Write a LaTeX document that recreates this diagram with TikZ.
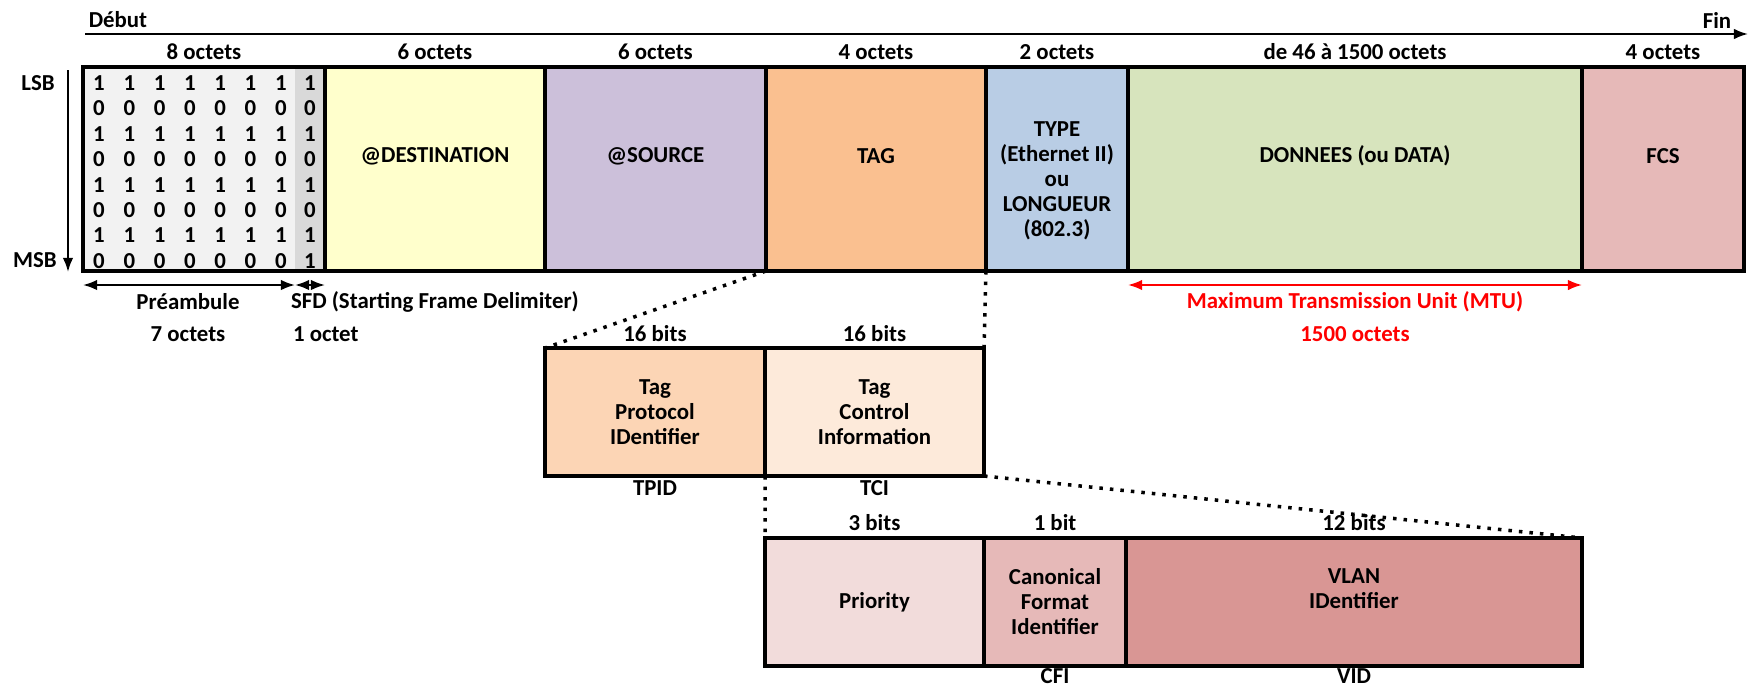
\documentclass[tikz,border=0pt]{standalone}
\usepackage{fontspec}
\setmainfont{Carlito}
\usetikzlibrary{positioning,arrows.meta}
\definecolor{prebg}{HTML}{F2F2F2}
\definecolor{sfdbg}{HTML}{D9D9D9}
\definecolor{destbg}{HTML}{FFFFCC}
\definecolor{srcbg}{HTML}{CCC0DA}
\definecolor{tagbg}{HTML}{FAC090}
\definecolor{typebg}{HTML}{B9CDE5}
\definecolor{databg}{HTML}{D7E4BD}
\definecolor{fcsbg}{HTML}{E6B9B8}
\definecolor{tpidbg}{HTML}{FCD5B5}
\definecolor{tcibg}{HTML}{FDEADA}
\definecolor{priobg}{HTML}{F2DCDB}
\definecolor{cfibg}{HTML}{E6B9B8}
\definecolor{vidbg}{HTML}{D99694}
\definecolor{mtured}{HTML}{FF0000}

\begin{document}
\begin{tikzpicture}[
        every node/.style={font=\bfseries\fontsize{6.5}{7.1}\selectfont, inner sep=0pt, outer sep=0pt, align=center},
        field/.style={draw, line width=0.9pt, minimum height=2.04cm},
        subfield/.style={draw, line width=0.9pt, minimum height=1.28cm},
        zoomline/.style={dotted, line width=1pt},
        >={Latex[length=4pt,width=3pt]}
    ]
        \useasboundingbox (0, 0) rectangle (17.53, -6.87);
        % time line
        \coordinate (tstart) at (0.85, -0.34);
        \coordinate (tend) at (17.48, -0.34);
        \draw [->, line width=0.6pt] (tstart) -- (tend);
        \node (debut) at (1.18, -0.20) {Début};
        \node (fin) at (17.17, -0.20) {Fin};
        % frame
        \node [field, draw=none, fill=prebg, minimum width=2.12cm] (pre) at (1.89, -1.69) {};
        \node [field, draw=none, fill=sfdbg, minimum width=0.30cm, right=0pt of pre] (sfd) {};
        \draw [line width=0.9pt] (pre.north west) rectangle (sfd.south east);
        \node [field, fill=destbg, minimum width=2.20cm, right=0pt of sfd] (dest) {};
        \node [field, fill=srcbg, minimum width=2.21cm, right=0pt of dest] (src) {};
        \node [field, fill=tagbg, minimum width=2.20cm, right=0pt of src] (tag) {};
        \node [field, fill=typebg, minimum width=1.42cm, right=0pt of tag] (type) {};
        \node [field, fill=databg, minimum width=4.54cm, right=0pt of type] (data) {};
        \node [field, fill=fcsbg, minimum width=1.62cm, right=0pt of data] (fcs) {};
        % bits
        \foreach \r in {0,...,7} {
            \foreach \c in {0,...,6} {
                \pgfmathtruncatemacro{\b}{\r==7 ? 0 : mod(\r+1,2)}
                \node (b\r\c) at (0.99+0.303*\c, -0.83-0.254*\r) {\b};
            }
        }
        \foreach \b [count=\r from 0] in {1,0,1,0,1,0,1,1}
            \node (s\r) at (3.10, -0.83-0.254*\r) {\b};
        \node (lsb) at (0.38, -0.83) {LSB};
        \node (msb) at (0.35, -2.60) {MSB};
        \coordinate (bitstop) at (0.68, -0.70);
        \coordinate (bitsbot) at (0.68, -2.72);
        \draw [->, line width=0.6pt] (bitstop) -- (bitsbot);
        % field texts
        \node (tdest) at ([yshift=0.13cm]dest.center) {@DESTINATION};
        \node (tsrc) at ([yshift=0.13cm]src.center) {@SOURCE};
        \node (ttag) at ([yshift=0.13cm]tag.center) {TAG};
        \node (ttype) at ([yshift=-0.12cm]type.center) {TYPE\\(Ethernet II)\\ou\\LONGUEUR\\(802.3)};
        \node (tdata) at ([yshift=0.13cm]data.center) {DONNEES (ou DATA)};
        \node (tfcs) at ([yshift=0.13cm]fcs.center) {FCS};
        % sizes
        \node (zpre) at (2.04, -0.52) {8 octets};
        \node (zdest) at ([yshift=0.15cm]dest.north) {6 octets};
        \node (zsrc) at ([yshift=0.15cm]src.north) {6 octets};
        \node (ztag) at ([yshift=0.15cm]tag.north) {4 octets};
        \node (ztype) at ([yshift=0.15cm]type.north) {2 octets};
        \node (zdata) at ([yshift=0.15cm]data.north) {de 46 à 1500 octets};
        \node (zfcs) at ([yshift=0.15cm]fcs.north) {4 octets};
        % under the frame
        \draw [<->, line width=0.6pt] ([yshift=-0.14cm]pre.south west) -- ([yshift=-0.14cm]pre.south east);
        \draw [<->, line width=0.6pt] ([yshift=-0.14cm]sfd.south west) -- ([yshift=-0.14cm]sfd.south east);
        \node (npre) at (1.88, -3.02) {Préambule};
        \node (npre2) at (1.88, -3.34) {7 octets};
        \node [anchor=west] (nsfd) at (2.91, -3.02) {SFD (Starting Frame Delimiter)};
        \node [anchor=west] (nsfd2) at (2.93, -3.34) {1 octet};
        \draw [<->, line width=0.6pt, mtured] ([yshift=-0.14cm]data.south west) -- ([yshift=-0.14cm]data.south east);
        \node [text=mtured] (mtu) at (13.55, -3.02) {Maximum Transmission Unit (MTU)};
        \node [text=mtured] (mtu2) at (13.55, -3.34) {1500 octets};
        % tag detail
        \node [subfield, fill=tpidbg, minimum width=2.20cm] (tpid) at (6.55, -4.12) {Tag\\Protocol\\IDentifier};
        \node [subfield, fill=tcibg, minimum width=2.19cm, right=0pt of tpid] (tci) {Tag\\Control\\Information};
        \node (ztpid) at ([yshift=0.14cm]tpid.north) {16 bits};
        \node (ztci) at ([yshift=0.14cm]tci.north) {16 bits};
        \node (ntpid) at ([yshift=-0.12cm]tpid.south) {TPID};
        \node (ntci) at ([yshift=-0.12cm]tci.south) {TCI};
        \draw [zoomline] (src.south east) -- (tpid.north west);
        \draw [zoomline] (tag.south east) -- (tci.north east);
        % tci detail
        \node [subfield, fill=priobg, minimum width=2.19cm] (prio) at (8.745, -6.02) {Priority};
        \node [subfield, fill=cfibg, minimum width=1.42cm, right=0pt of prio] (cfi) {Canonical\\Format\\Identifier};
        \node [subfield, fill=vidbg, minimum width=4.56cm, right=0pt of cfi] (vid) {};
        \node (tvid) at ([yshift=0.13cm]vid.center) {VLAN\\IDentifier};
        \node (zprio) at ([yshift=0.15cm]prio.north) {3 bits};
        \node (zcfi) at ([yshift=0.15cm]cfi.north) {1 bit};
        \node (zvid) at ([yshift=0.15cm]vid.north) {12 bits};
        \node (ncfi) at ([yshift=-0.10cm]cfi.south) {CFI};
        \node (nvid) at ([yshift=-0.10cm]vid.south) {VID};
        \draw [zoomline] (tci.south west) -- (prio.north west);
        \draw [zoomline] (tci.south east) -- (vid.north east);
    \end{tikzpicture}
\end{document}
